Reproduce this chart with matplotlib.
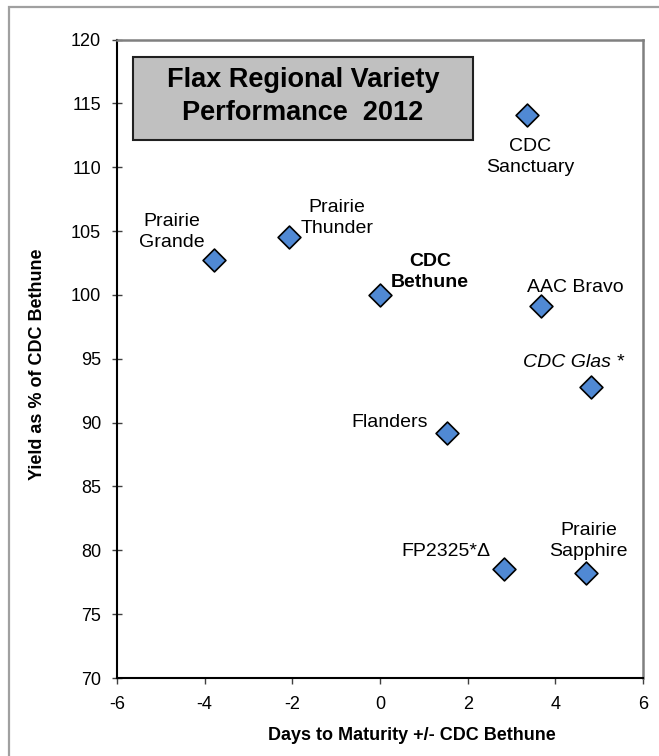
import matplotlib
matplotlib.use('Agg')
import matplotlib.pyplot as plt
from matplotlib.patches import Rectangle

plt.rcParams['font.family'] = ['Liberation Sans', 'DejaVu Sans']
plt.rcParams['axes.unicode_minus'] = False

# varieties: days to maturity vs CDC Bethune, yield as % of CDC Bethune
varieties = ['Prairie\nGrande', 'Prairie\nThunder', 'CDC\nBethune', 'CDC\nSanctuary',
             'AAC Bravo', 'CDC Glas *', 'Flanders', 'FP2325*\u0394', 'Prairie\nSapphire']
days = [-3.78, -2.08, 0.0, 3.35, 3.68, 4.81, 1.52, 2.84, 4.69]
yields = [102.7, 104.5, 100.0, 114.1, 99.1, 92.8, 89.2, 78.5, 78.2]

# label placement (pixel offsets from the marker) and text style
offsets = [(-42, 28), (48, 19), (50, 23), (3, -42), (34, 19), (-17, 24), (-19, 10), (-14, 18), (3, 32)]
aligns = ['center', 'center', 'center', 'center', 'center', 'center', 'right', 'right', 'center']
weights = ['normal', 'normal', 'bold', 'normal', 'normal', 'normal', 'normal', 'normal', 'normal']
styles = ['normal', 'normal', 'normal', 'normal', 'normal', 'italic', 'normal', 'normal', 'normal']

W, H = 659, 756
fig = plt.figure(figsize=(W / 100, H / 100), dpi=100)
ax = fig.add_axes([117 / W, 1 - 678 / H, 526 / W, 638.5 / H])

# outer chart frame, runs off the right and bottom edges
fig.patches.append(Rectangle((8.5 / W, -0.05), 1.0, 1.05 - 7.5 / H, transform=fig.transFigure,
                             fill=False, edgecolor='#a0a0a0', linewidth=1.6))

ax.scatter(days, yields, marker='D', s=135, facecolor='#5089d4', edgecolor='black',
           linewidth=1.2, zorder=3)

for name, x, y, off, ha, fw, fs in zip(varieties, days, yields, offsets, aligns, weights, styles):
    ax.annotate(name, (x, y), xytext=(off[0] * 0.72, off[1] * 0.72), textcoords='offset points',
                ha=ha, va='center', fontsize=14, fontweight=fw, fontstyle=fs,
                linespacing=1.3, multialignment='center')

ax.set_xlim(-6, 6)
ax.set_ylim(70, 120)
ax.set_xticks(range(-6, 7, 2))
ax.set_yticks(range(70, 121, 5))
ax.tick_params(axis='x', direction='out', length=4, width=1, color='#404040', pad=9, labelsize=13)
ax.tick_params(axis='y', direction='inout', length=7, width=1, color='#404040', pad=8, labelsize=13)

for side in ['left', 'bottom']:
    ax.spines[side].set_color('black')
    ax.spines[side].set_linewidth(1.5)
for side in ['top', 'right']:
    ax.spines[side].set_color('#808080')
    ax.spines[side].set_linewidth(1.8)

fig.text(412 / W, 1 - 735 / H, 'Days to Maturity +/- CDC Bethune', ha='center', va='center',
         fontsize=13, fontweight='bold')
fig.text(38 / W, 1 - 364 / H, 'Yield as % of CDC Bethune', ha='center', va='center',
         rotation=90, fontsize=13, fontweight='bold')

# title box
ax.add_patch(Rectangle((16 / 526, 538 / 638.5), 340 / 526, 83 / 638.5, transform=ax.transAxes,
                       facecolor='#c0c0c0', edgecolor='#202020', linewidth=1.5, zorder=2))
ax.text(186 / 526, (678 - 96.5) / 638.5, 'Flax Regional Variety\nPerformance  2012',
        transform=ax.transAxes, ha='center', va='center', fontsize=19.5, fontweight='bold',
        linespacing=1.32, zorder=4)

fig.savefig('out.png', dpi=100)
